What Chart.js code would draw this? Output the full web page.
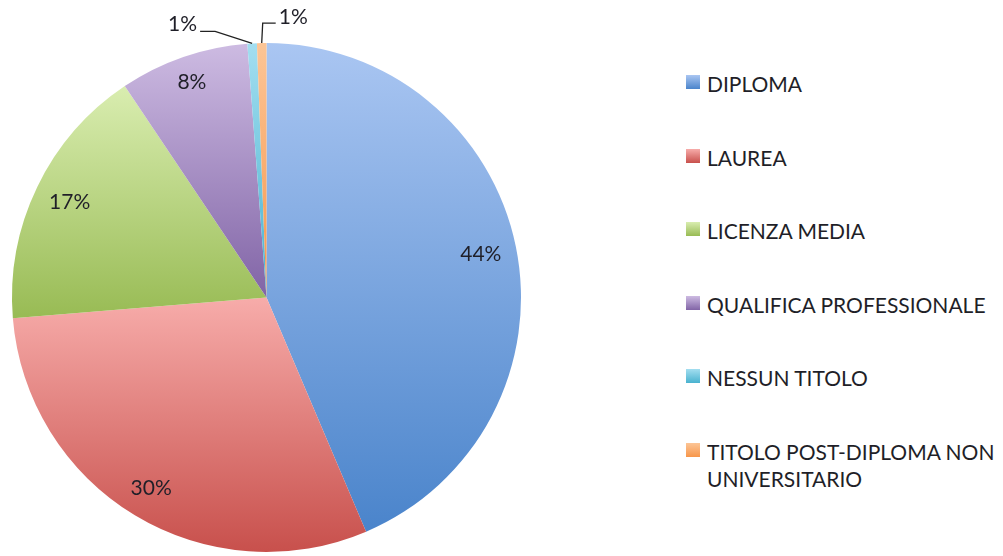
<!DOCTYPE html>
<html>
<head>
<meta charset="utf-8">
<script src="https://cdn.jsdelivr.net/npm/chart.js@4.4.1/dist/chart.umd.min.js"></script>
<style>
  body { margin: 0; background: #fff; width: 1003px; height: 556px; overflow: hidden; position: relative; font-family: Lato, "Open Sans", sans-serif; }
  #wrap { position: absolute; left: 0; top: 0; width: 533px; height: 556px; }
  #legend { position: absolute; left: 686px; top: 70px; list-style: none; margin: 0; padding: 0; }
  #legend li { position: relative; padding-left: 21px; height: 73.5px; width: 295px; font-size: 21px; line-height: 27px; color: #1f1f28; }
  #legend li .box { position: absolute; left: 0; top: 5px; width: 14px; height: 14px; }
</style>
</head>
<body>
<div id="wrap"><canvas id="pie"></canvas></div>
<ul id="legend"></ul>
<script>
// Titolo di studio - shares
const labels = ["DIPLOMA", "LAUREA", "LICENZA MEDIA", "QUALIFICA PROFESSIONALE", "NESSUN TITOLO", "TITOLO POST-DIPLOMA NON UNIVERSITARIO"];
const values = [43.6, 30.1, 16.9, 8.2, 0.6, 0.6];

// Office style gradient: light tint on top, base colour at bottom
const lightColors = ["#aac6f2", "#f7acaa", "#d9edb0", "#cdbbe2", "#a3def0", "#fcc596"];
const baseColors = ["#4a84cb", "#c8504c", "#98bb54", "#8164a6", "#49b2cf", "#f7964a"];

// Build the html legend
const legendEl = document.getElementById("legend");
labels.forEach((label, i) => {
    const li = document.createElement("li");
    li.innerHTML = `<span class="box" style="background:linear-gradient(${lightColors[i]}, ${baseColors[i]})"></span>${label}`;
    legendEl.appendChild(li);
});

// Give every slice its own vertical gradient over its bounding box
const sliceGradients = {
    id: "sliceGradients",
    beforeDatasetsDraw(chart) {
        const ctx = chart.ctx;
        chart.getDatasetMeta(0).data.forEach((arc, i) => {
            const { x, y, startAngle, endAngle, outerRadius } = arc;
            const angles = [startAngle, endAngle];
            for (let k = -1; k <= 3; k++) {
                const a = k * Math.PI / 2;
                if (a > startAngle && a < endAngle) angles.push(a);
            }
            let top = y, bottom = y;
            angles.forEach(a => {
                const py = y + Math.sin(a) * outerRadius;
                top = Math.min(top, py);
                bottom = Math.max(bottom, py);
            });
            const g = ctx.createLinearGradient(0, top, 0, bottom);
            g.addColorStop(0, lightColors[i]);
            g.addColorStop(1, baseColors[i]);
            arc.options.backgroundColor = g;
        });
    }
};

// Percent labels ("inside end"), with leader lines for the tiny slices
const pctLabels = {
    id: "pctLabels",
    afterDatasetsDraw(chart) {
        const ctx = chart.ctx;
        const total = values.reduce((a, b) => a + b, 0);
        let smallCount = 0;
        ctx.save();
        ctx.font = "21px Lato";
        ctx.fillStyle = "#1f1f28";
        ctx.strokeStyle = "#222";
        ctx.lineWidth = 1.3;
        chart.getDatasetMeta(0).data.forEach((arc, i) => {
            const { x, y, startAngle, endAngle, outerRadius } = arc;
            const mid = (startAngle + endAngle) / 2;
            const share = values[i] / total;
            const text = Math.round(share * 100) + "%";
            const ux = Math.cos(mid), uy = Math.sin(mid);
            if (share >= 0.03) {
                const w = ctx.measureText(text).width;
                const r = outerRadius - 14 - (Math.abs(ux) * w / 2 + Math.abs(uy) * 8);
                ctx.textAlign = "center";
                ctx.textBaseline = "middle";
                ctx.fillText(text, x + ux * r, y + uy * r);
                return;
            }
            const px = x + ux * outerRadius;
            const py = y + uy * outerRadius;
            ctx.beginPath();
            ctx.moveTo(px, py);
            ctx.textBaseline = "alphabetic";
            if (smallCount === 0) {
                ctx.lineTo(px - 37, py - 12);
                ctx.lineTo(px - 52, py - 12);
                ctx.stroke();
                ctx.textAlign = "right";
                ctx.fillText(text, px - 55, py - 12);
            } else {
                ctx.lineTo(px + 1, py - 20);
                ctx.lineTo(px + 14, py - 20);
                ctx.stroke();
                ctx.textAlign = "left";
                ctx.fillText(text, px + 17, py - 19);
            }
            smallCount++;
        });
        ctx.restore();
    }
};

new Chart(document.getElementById("pie"), {
    type: "pie",
    data: {
        labels: labels,
        datasets: [{
            data: values,
            backgroundColor: baseColors,
            borderWidth: 0
        }]
    },
    options: {
        responsive: true,
        maintainAspectRatio: false,
        animation: false,
        events: [],
        layout: { padding: { top: 43, bottom: 4, left: 0, right: 0 } },
        plugins: {
            legend: { display: false },
            tooltip: { enabled: false }
        }
    },
    plugins: [sliceGradients, pctLabels]
});
</script>
</body>
</html>
